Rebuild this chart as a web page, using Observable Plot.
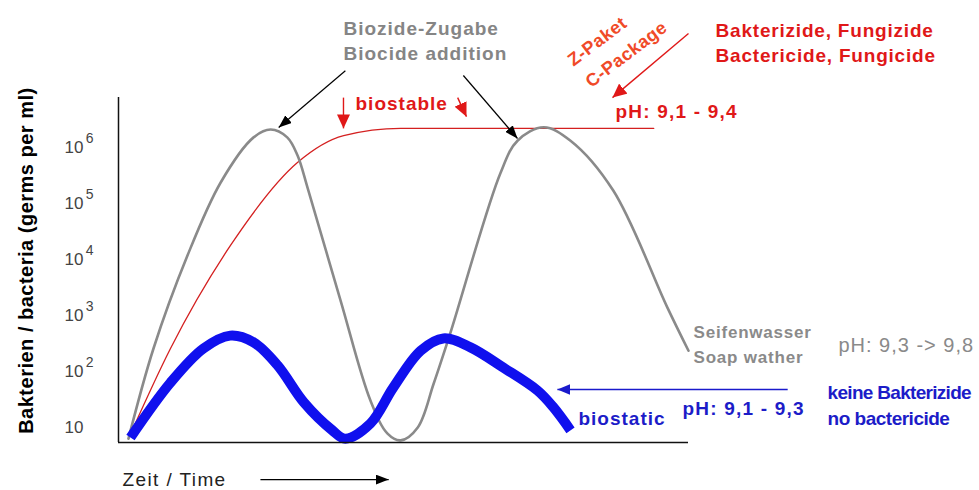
<!DOCTYPE html>
<html><head><meta charset="utf-8">
<script src="https://cdn.jsdelivr.net/npm/d3@7"></script>
<script src="https://cdn.jsdelivr.net/npm/@observablehq/plot@0.6"></script>
<style>body{margin:0;background:#fff;} #chart{width:979px;height:490px;}</style>
</head><body><div id="chart"></div>
<script>
// Time in arbitrary units (0..100 = length of the time axis); values as log10(germs per ml)
const grayT = [1.75, 6.14, 12.1, 17.9, 23.7, 26.7, 29.6, 31.4, 33.2, 38.95, 44.2, 47.2, 49.5, 52.5, 55.3, 58.2, 67.0, 70.0, 74.6, 79.3, 86.8, 96.3, 100];
const grayE = [0.89, 2.5, 4.16, 5.46, 6.27, 6.41, 6.27, 5.95, 5.36, 3.36, 1.57, 0.98, 0.86, 1.09, 1.875, 2.77, 5.63, 6.21, 6.45, 6.21, 5.32, 3.23, 2.46];

const redT = [1.75, 9.12, 19.65, 31.4, 39.5, 49.5, 93.9];
const redE = [0.89, 2.5, 4.34, 5.82, 6.30, 6.43, 6.43];

const blueT = [2.1, 9.12, 14.9, 19.6, 23.7, 27.9, 32.5, 37.5, 39.8, 44.2, 48.2, 53.0, 57.0, 61.75, 67.5, 73.5, 76.3, 79.3];
const blueE = [0.91, 1.89, 2.5, 2.73, 2.61, 2.20, 1.54, 1.04, 0.89, 1.16, 1.80, 2.46, 2.68, 2.52, 2.16, 1.75, 1.45, 1.04];

const yTicks = [10, 100, 1000, 10000, 100000, 1000000];
const yLabel = "Bakterien / bacteria (germs per ml)";

// annotations (t = time position, e = log10 position)
const grayNotes = [
  {t: 39.47, e: 8.214, text: "Biozide-Zugabe"},
  {t: 39.47, e: 7.768, text: "Biocide addition"}
];
const redNotes = [
  {t: 41.58, e: 6.875, text: "biostable"},
  {t: 104.74, e: 8.179, text: "Bakterizide, Fungizide"},
  {t: 104.74, e: 7.732, text: "Bactericide, Fungicide"},
  {t: 87.19, e: 6.732, text: "pH: 9,1 - 9,4"}
];
const packageNotes = [
  {t: 84.0, e: 7.98, text: "Z-Paket"},
  {t: 89.1, e: 7.75, text: "C-Package"}
];
const soapNotes = [
  {t: 100.88, e: 2.786, text: "Seifenwasser"},
  {t: 100.88, e: 2.339, text: "Soap wather"}
];
const soapPh = [{t: 126.3, e: 2.554, text: "pH: 9,3 -> 9,8"}];
const blueNotes = [
  {t: 98.95, e: 1.429, text: "pH: 9,1 - 9,3"},
  {t: 80.7, e: 1.25, text: "biostatic"}
];
const blueSide = [
  {t: 124.4, e: 1.714, text: "keine Bakterizide"},
  {t: 124.4, e: 1.25, text: "no bactericide"}
];
const timeNote = [{t: 0.7, e: 0.16, text: "Zeit / Time"}];
const yLabelPos = [{t: -16.2, e: 4.07, text: yLabel}];

const blackArrows = [
  {t1: 39.8, e1: 7.46, t2: 28.1, e2: 6.446},
  {t1: 60.5, e1: 7.375, t2: 70.0, e2: 6.25},
  {t1: 24.9, e1: 0.16, t2: 47.4, e2: 0.16}
];
const redArrows = [
  {t1: 39.47, e1: 6.98, t2: 39.47, e2: 6.43},
  {t1: 59.5, e1: 6.98, t2: 61.05, e2: 6.64},
  {t1: 100, e1: 8.125, t2: 86.67, e2: 6.98}
];
const blueArrows = [
  {t1: 117.4, e1: 1.768, t2: 77.0, e2: 1.768}
];

const pts = (T, E) => T.map((t, i) => ({t, e: E[i]}));
const gray = pts(grayT, grayE), red = pts(redT, redE), blue = pts(blueT, blueE);
const Y = d => 10 ** d.e;
const FONT = "'Liberation Sans', Arial, sans-serif";

const txt = (data, o) => Plot.text(data, {x: "t", y: Y, text: "text", textAnchor: "start", ...o});
const arr = (data, color, w) => Plot.link(data, {x1: "t1", y1: d => 10 ** d.e1, x2: "t2", y2: d => 10 ** d.e2, stroke: color, strokeWidth: w});

const svg = Plot.plot({
  width: 979, height: 490,
  marginLeft: 118, marginRight: 291, marginTop: 97, marginBottom: 48,
  style: {fontFamily: FONT, background: "#fff", overflow: "visible"},
  x: {domain: [0, 100], axis: null},
  y: {type: "log", domain: [10 ** 0.8214, 10 ** 6.982], axis: null},
  marks: [
    Plot.axisY(yTicks, {tickFormat: () => "10", tickSize: 0, tickPadding: 35, fontSize: 17, fill: "#444", dy: -5, label: null}),
    Plot.axisY(yTicks.slice(1), {tickFormat: d => String(Math.round(Math.log10(d))), tickSize: 0, tickPadding: 25, fontSize: 14, fill: "#444", dy: -14, label: null}),
    Plot.line(red, {x: "t", y: Y, stroke: "#d42020", strokeWidth: 1.3, curve: "monotone-x"}),
    Plot.line(gray, {x: "t", y: Y, stroke: "#8a8a8a", strokeWidth: 2.6, curve: "catmull-rom"}),
    Plot.line(blue, {x: "t", y: Y, stroke: "#1010ee", strokeWidth: 10, curve: "catmull-rom", strokeLinecap: "butt"}),
    Plot.ruleX([0], {stroke: "#111", strokeWidth: 1.5}),
    Plot.ruleY([10 ** 0.8214], {stroke: "#111", strokeWidth: 1.5}),
    arr(blackArrows, "#000", 1.2),
    arr(redArrows, "#e01818", 1.4),
    arr(blueArrows, "#1a1acc", 1.6),
    txt(grayNotes, {fill: "#858585", fontSize: 19, fontWeight: "bold"}),
    txt(redNotes, {fill: "#e01818", fontSize: 19, fontWeight: "bold"}),
    Plot.text(packageNotes, {x: "t", y: Y, text: "text", fill: "#f04a28", fontSize: 18, fontWeight: "bold", rotate: -37}),
    txt(soapNotes, {fill: "#8a8a8a", fontSize: 17, fontWeight: "bold"}),
    txt(soapPh, {fill: "#8a8a8a", fontSize: 20}),
    txt(blueNotes, {fill: "#1c1cc8", fontSize: 19, fontWeight: "bold"}),
    txt(blueSide, {fill: "#1c1cc8", fontSize: 19, fontWeight: "bold"}),
    txt(timeNote, {fill: "#222", fontSize: 19}),
    Plot.text(yLabelPos, {x: "t", y: Y, text: "text", rotate: -90, fill: "#000", fontSize: 20, fontWeight: "bold"})
  ]
});

// letter spacing to match the wide rendering of the original
const spacing = new Map([
  ["Biozide-Zugabe", 1], ["Biocide addition", 1], ["biostable", 1],
  ["Bakterizide, Fungizide", 0.8], ["Bactericide, Fungicide", 0.8],
  ["pH: 9,1 - 9,4", 1.2], ["pH: 9,1 - 9,3", 1.2], ["biostatic", 1],
  ["Seifenwasser", 0.8], ["Soap wather", 0.8], ["pH: 9,3 -> 9,8", 1],
  ["keine Bakterizide", -0.7], ["no bactericide", -0.5],
  ["Z-Paket", 0.5], ["C-Package", 0.5], ["Zeit / Time", 1.4], [yLabel, 0.5]
]);
d3.select(svg).selectAll("text").each(function () {
  const s = spacing.get(this.textContent);
  if (s !== undefined) this.setAttribute("letter-spacing", s);
});

// filled arrowheads
const defs = d3.select(svg).insert("defs", ":first-child");
const heads = {"#000": ["ah-k", 13, 10], "#e01818": ["ah-r", 14, 13], "#1a1acc": ["ah-b", 13, 11]};
for (const [color, [id, len, wid]] of Object.entries(heads)) {
  defs.append("marker").attr("id", id).attr("viewBox", `0 0 ${len} ${wid}`)
    .attr("refX", len).attr("refY", wid / 2).attr("markerWidth", len).attr("markerHeight", wid)
    .attr("markerUnits", "userSpaceOnUse").attr("orient", "auto")
    .append("path").attr("d", `M0,0L${len},${wid / 2}L0,${wid}Z`).attr("fill", color);
}
d3.select(svg).selectAll('g[aria-label="link"]').each(function () {
  const c = this.getAttribute("stroke");
  if (heads[c]) d3.select(this).selectAll("path").attr("marker-end", `url(#${heads[c][0]})`);
});

document.getElementById("chart").appendChild(svg);
</script>
</body></html>
